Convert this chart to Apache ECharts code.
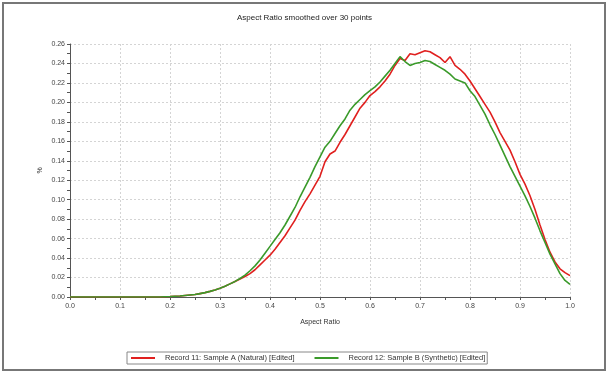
<!DOCTYPE html>
<html><head><meta charset="utf-8">
<script src="https://cdn.jsdelivr.net/npm/echarts@6/dist/echarts.min.js"></script>
<style>html,body{margin:0;padding:0;background:#fff}#c{width:609px;height:373px}</style>
</head><body><div id="c"></div>
<script>
// Aspect ratio positions (0.00 .. 1.00 step 0.01)
const aspectRatio = [0.00,0.01,0.02,0.03,0.04,0.05,0.06,0.07,0.08,0.09,0.10,0.11,0.12,0.13,0.14,0.15,0.16,0.17,0.18,0.19,0.20,0.21,0.22,0.23,0.24,0.25,0.26,0.27,0.28,0.29,0.30,0.31,0.32,0.33,0.34,0.35,0.36,0.37,0.38,0.39,0.40,0.41,0.42,0.43,0.44,0.45,0.46,0.47,0.48,0.49,0.50,0.51,0.52,0.53,0.54,0.55,0.56,0.57,0.58,0.59,0.60,0.61,0.62,0.63,0.64,0.65,0.66,0.67,0.68,0.69,0.70,0.71,0.72,0.73,0.74,0.75,0.76,0.77,0.78,0.79,0.80,0.81,0.82,0.83,0.84,0.85,0.86,0.87,0.88,0.89,0.90,0.91,0.92,0.93,0.94,0.95,0.96,0.97,0.98,0.99,1.00];
// Record 11: Sample A (Natural) - red
const sampleA = [0,0,0,0,0,0,0,0,0,0,0,0,0,0,0,0,0,0,0,0.0003,0.0005,0.0008,0.001,0.0015,0.002,0.0025,0.0035,0.0045,0.0058,0.0072,0.009,0.011,0.0135,0.016,0.0185,0.021,0.024,0.028,0.033,0.038,0.043,0.049,0.056,0.063,0.071,0.079,0.089,0.098,0.106,0.115,0.124,0.139,0.147,0.150,0.159,0.167,0.176,0.185,0.194,0.200,0.207,0.211,0.216,0.222,0.229,0.238,0.245,0.243,0.250,0.249,0.251,0.253,0.252,0.249,0.246,0.241,0.247,0.238,0.234,0.229,0.222,0.214,0.206,0.198,0.190,0.180,0.169,0.160,0.151,0.139,0.126,0.116,0.104,0.090,0.074,0.059,0.046,0.036,0.029,0.025,0.022];
// Record 12: Sample B (Synthetic) - green
const sampleB = [0,0,0,0,0,0,0,0,0,0,0,0,0,0,0,0,0,0,0,0.0003,0.0005,0.0008,0.001,0.0015,0.002,0.0025,0.0035,0.0045,0.0058,0.0072,0.009,0.011,0.0135,0.016,0.019,0.0225,0.027,0.032,0.038,0.045,0.052,0.059,0.066,0.074,0.083,0.092,0.103,0.113,0.123,0.134,0.144,0.154,0.160,0.168,0.176,0.183,0.192,0.198,0.203,0.208,0.212,0.216,0.221,0.227,0.233,0.240,0.247,0.242,0.238,0.240,0.241,0.243,0.242,0.239,0.236,0.233,0.229,0.224,0.222,0.220,0.212,0.206,0.197,0.188,0.177,0.167,0.156,0.145,0.134,0.124,0.114,0.104,0.093,0.081,0.068,0.056,0.044,0.034,0.024,0.017,0.013];
const seriesNames = ['Record 11: Sample A (Natural) [Edited]','Record 12: Sample B (Synthetic) [Edited]'];
const titleText = 'Aspect Ratio smoothed over 30 points';

const chart = echarts.init(document.getElementById('c'), null, {renderer:'canvas'});
const pairs = arr => aspectRatio.map((x,i)=>[x,arr[i]]);
const axisLabelStyle = {fontSize:7, color:'#444', fontFamily:'Liberation Sans, Arial, sans-serif'};
chart.setOption({
  animation:false,
  backgroundColor:'#fff',
  title:{text:titleText,left:'center',top:9,textStyle:{fontSize:8,fontWeight:'normal',color:'#222',fontFamily:'Liberation Sans, Arial, sans-serif'}},
  grid:{left:70,right:39,top:44,bottom:76},
  xAxis:{type:'value',min:0,max:1,interval:0.1,name:'Aspect Ratio',nameLocation:'middle',nameGap:22,
    nameTextStyle:{fontSize:7,color:'#333',fontFamily:'Liberation Sans, Arial, sans-serif'},
    axisLine:{lineStyle:{color:'#555',width:1}},
    axisTick:{show:true,length:3,inside:false,lineStyle:{color:'#555'}},
    minorTick:{show:true,splitNumber:2,length:3,lineStyle:{color:'#555'}},
    axisLabel:Object.assign({margin:6,formatter:v=>v.toFixed(1)},axisLabelStyle),
    splitLine:{show:true,lineStyle:{color:'#d4d4d4',type:[2,2],width:1}}},
  yAxis:{type:'value',min:0,max:0.26,interval:0.02,name:'%',nameLocation:'middle',nameGap:26,nameRotate:90,
    nameMoveOverlap:false,
    nameTextStyle:{fontSize:7,color:'#333'},
    axisLine:{show:true,lineStyle:{color:'#555',width:1}},
    axisTick:{show:true,length:3,lineStyle:{color:'#555'}},
    minorTick:{show:true,splitNumber:2,length:3,lineStyle:{color:'#555'}},
    axisLabel:Object.assign({margin:5,formatter:v=>v.toFixed(2)},axisLabelStyle),
    splitLine:{show:true,lineStyle:{color:'#d4d4d4',type:[2,2],width:1}}},
  legend:{left:127,top:352,orient:'horizontal',icon:'rect',itemWidth:24,itemHeight:2,itemGap:20,
    padding:[2,2,2,4],borderColor:'#888',borderWidth:1,
    textStyle:{fontSize:7.5,color:'#333',fontFamily:'Liberation Sans, Arial, sans-serif',padding:[0,0,0,5]},
    data:seriesNames},
  series:[
    {name:seriesNames[0],type:'line',data:pairs(sampleA),showSymbol:false,lineStyle:{color:'#e0201f',width:1.6},itemStyle:{color:'#e0201f'},z:3},
    {name:seriesNames[1],type:'line',data:pairs(sampleB),showSymbol:false,lineStyle:{color:'#3a9a2a',width:1.6},itemStyle:{color:'#3a9a2a'},z:4}
  ],
  graphic:[
    {type:'rect',shape:{x:3,y:3,width:602,height:367},style:{fill:null,stroke:'#777',lineWidth:2},silent:true}
  ]
});
</script></body></html>
